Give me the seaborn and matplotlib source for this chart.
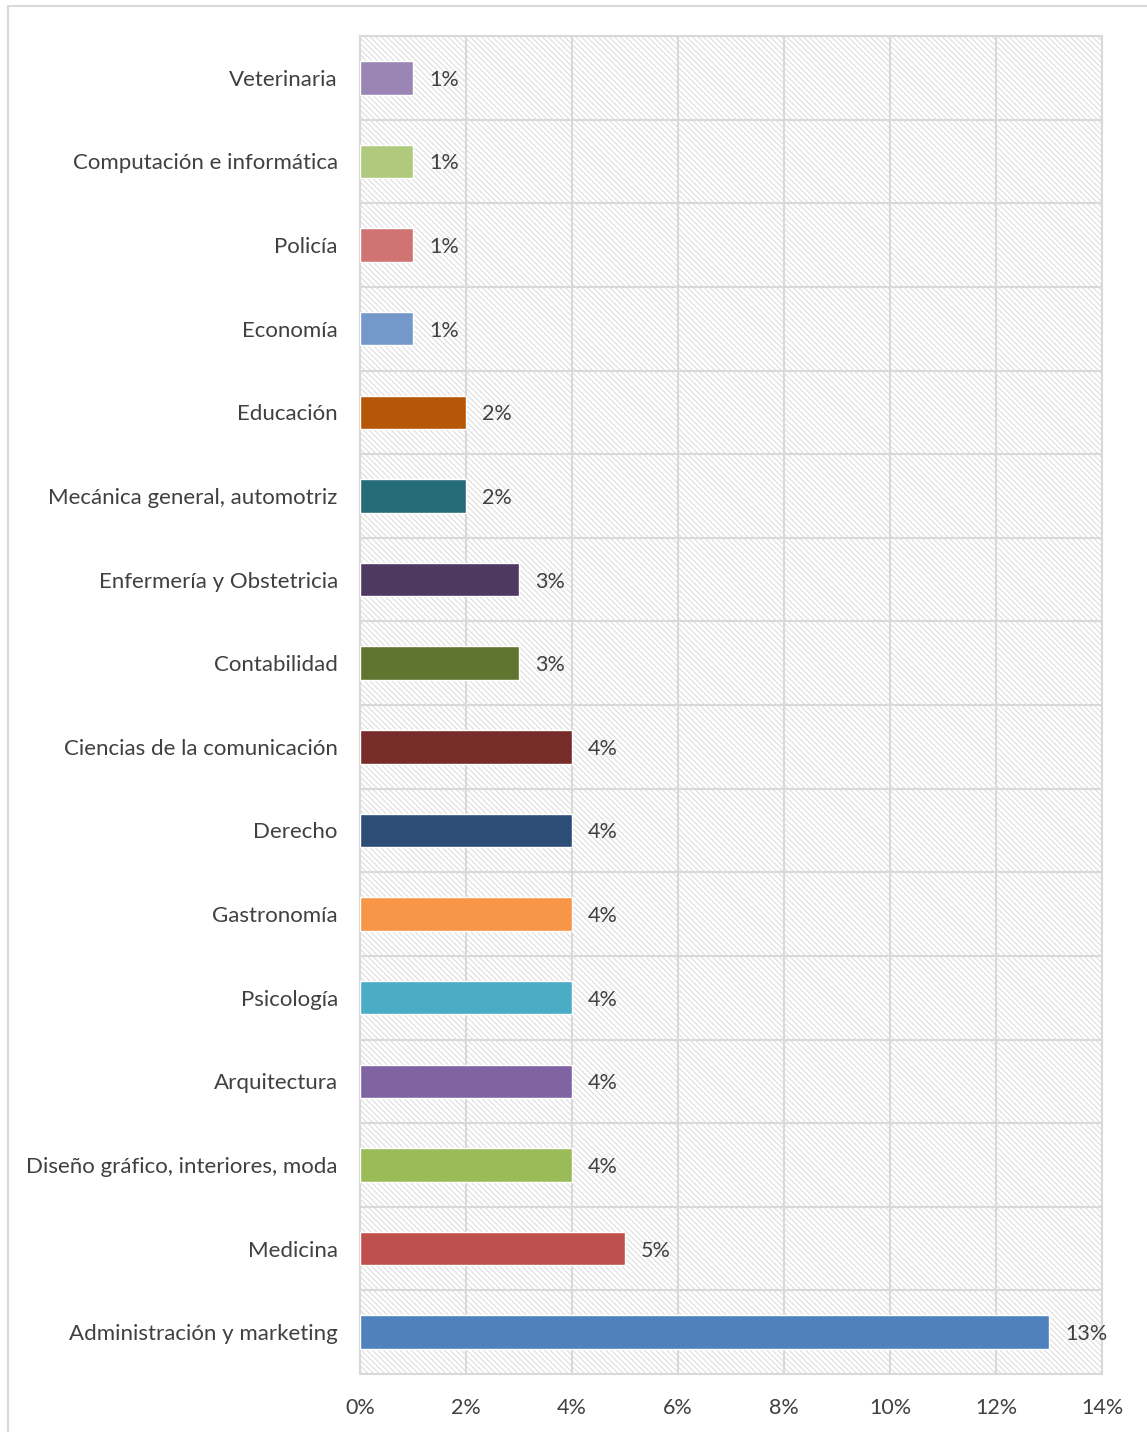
import pandas as pd
import matplotlib.pyplot as plt
import matplotlib.patches as patches
import matplotlib.ticker as ticker
import seaborn as sns

# datos
carreras = ['Veterinaria', 'Computación e informática', 'Policía', 'Economía',
            'Educación', 'Mecánica general, automotriz', 'Enfermería y Obstetricia',
            'Contabilidad', 'Ciencias de la comunicación', 'Derecho', 'Gastronomía',
            'Psicología', 'Arquitectura', 'Diseño gráfico, interiores, moda',
            'Medicina', 'Administración y marketing']
porcentajes = [1, 1, 1, 1, 2, 2, 3, 3, 4, 4, 4, 4, 4, 4, 5, 13]
colores = ['#9A85B5', '#AFCA7D', '#D07473', '#7598CB', '#B65708', '#266B78',
           '#4C3A60', '#5F7530', '#772C2A', '#2C4D75', '#F79646', '#4BACC6',
           '#8064A2', '#9BBB59', '#C0504D', '#4F81BD']
ticks_x = [0, 2, 4, 6, 8, 10, 12, 14]

df = pd.DataFrame({'Carrera': carreras, 'Porcentaje': porcentajes})

sns.set_style('white')
plt.rcParams['font.family'] = ['Lato', 'DejaVu Sans']
plt.rcParams['hatch.color'] = '#dedede'
plt.rcParams['hatch.linewidth'] = 0.8

fig = plt.figure(figsize=(11.47, 14.32), dpi=100)
ax = fig.add_axes([360 / 1147, 1 - 1374 / 1432, (1102 - 360) / 1147, (1374 - 36) / 1432])

# fondo rayado del área de trazado
ax.add_patch(patches.Rectangle((0, 0), 1, 1, transform=ax.transAxes, facecolor='white',
                               edgecolor='#dedede', hatch='\\' * 6, lw=0, zorder=0))

sns.barplot(data=df, y='Carrera', x='Porcentaje', hue='Carrera', palette=colores,
            order=carreras, width=0.4, legend=False, saturation=1, ax=ax, zorder=3)

ax.set_xlim(0, 14)
ax.set_ylim(len(carreras) - 0.5, -0.5)
ax.set_xticks(ticks_x)
ax.xaxis.set_major_formatter(ticker.FuncFormatter(lambda v, p: f'{v:.0f}%'))
ax.set_yticks([i + 0.5 for i in range(-1, len(carreras))], minor=True)
ax.grid(True, axis='x', color='#d9d9d9', lw=1.5, zorder=1)
ax.grid(True, axis='y', which='minor', color='#d9d9d9', lw=1.5, zorder=1)
ax.grid(False, axis='y', which='major')
ax.set_axisbelow(True)
ax.tick_params(axis='both', which='both', length=0, labelsize=15.5, labelcolor='#404040')
ax.tick_params(axis='y', pad=16, labelsize=16)
ax.tick_params(axis='x', pad=17)
ax.set_xlabel('')
ax.set_ylabel('')
for s in ax.spines.values():
    s.set_color('#d9d9d9')
    s.set_linewidth(1.5)

# etiquetas de datos
for i, v in enumerate(porcentajes):
    ax.text(v + 0.3, i, f'{v}%', va='center_baseline', ha='left', fontsize=15.5,
            color='#404040', zorder=4)

# borde del gráfico
fig.patches.append(patches.Rectangle((8 / 1147, -0.01), 1.0, 1 - 6 / 1432 + 0.01,
                                     transform=fig.transFigure, fill=False,
                                     edgecolor='#d9d9d9', lw=1.5))

plt.savefig('out.png', dpi=100)
